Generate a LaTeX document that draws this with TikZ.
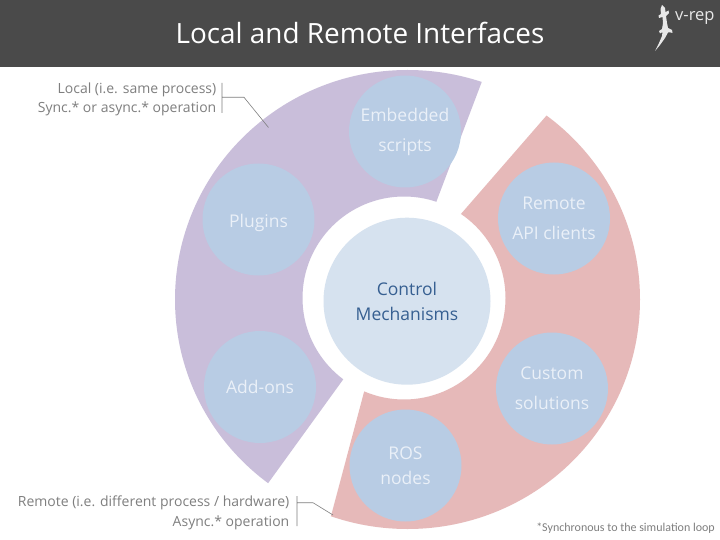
\documentclass[tikz,border=0pt]{standalone}
\usepackage{fontspec}
\setmainfont{Open Sans}
\newfontfamily\calib{Carlito}
\definecolor{barc}{HTML}{4A4A4A}
\definecolor{purp}{HTML}{C9BEDA}
\definecolor{pinkc}{HTML}{E6B9B9}
\definecolor{blobc}{HTML}{B8CCE4}
\definecolor{corec}{HTML}{D6E2EF}
\definecolor{labc}{HTML}{7F7F7F}
\definecolor{coretext}{HTML}{365F91}
\definecolor{logoc}{HTML}{E8E8E8}
\definecolor{blobtxt}{HTML}{EAF0F8}
\tikzset{x=1pt,y=-1pt,
  blob/.style={circle,fill=blobc,minimum size=112pt,inner sep=0pt},
  blobtext/.style={text=blobtxt,font=\fontsize{17.5}{30}\selectfont,align=center},
  core/.style={circle,fill=corec,minimum size=167pt,inner sep=0pt,text=coretext,align=center,font=\fontsize{17.5}{24.5}\selectfont},
  leader/.style={draw=labc,line width=0.6pt},
  lab/.style={text=labc,font=\fontsize{14}{19.5}\selectfont,align=right,anchor=east,inner sep=0pt}}
\begin{document}
\begin{tikzpicture}
\useasboundingbox (0,0) rectangle (720,540);
\fill[white] (0,0) rectangle (720,540);
\begin{scope}
\clip (512.8,0) -- (397.4,304.5) -- (227,540) -- (0,540) -- (0,0) -- cycle;
\fill[purp,even odd rule] (407.5,299.5) ellipse[x radius=232.5,y radius=229.5] (404,298) circle[radius=101.5];
\end{scope}
\begin{scope}
\clip (647,0) -- (720,0) -- (720,540) -- (324.6,540) -- (389.6,296) -- cycle;
\fill[pinkc,even odd rule] (407.5,299.5) ellipse[x radius=232.5,y radius=229.5] (404,298) circle[radius=101.5];
\end{scope}
\fill[barc] (0,0) rectangle (720,67);
\node[font=\fontsize{27.9}{32}\selectfont,text=white,inner sep=0pt] (title) at (360,33) {Local and Remote Interfaces};
\node[core] (ctrl) at (407,301.2) {Control\\Mechanisms};
\node[blob,blobtext] (emb) at (405,131.5) {Embedded\\scripts};
\node[blob,blobtext] (rem) at (554,218.5) {Remote\\API clients};
\node[blob,blobtext,text height=15.6pt,text depth=0pt] (plug) at (258.5,219.5) {Plugins};
\node[blob,blobtext] (cust) at (552,388.5) {Custom\\solutions};
\node[blob,blobtext] (add) at (260,387) {Add-ons};
\node[blob,blobtext,font=\fontsize{17.5}{24.5}\selectfont] (ros) at (405.5,465.5) {ROS\\nodes};
\node[lab] (loc) at (216.5,99.5) {Local (i.e. same process)\\Sync.* or async.* operation};
\node[lab] (rmt) at (289.5,513) {Remote (i.e. different process / hardware)\\Async.* operation};
\node[font=\calib\fontsize{12}{14}\selectfont,text=labc,anchor=east,inner sep=0pt] (foot) at (715,528) {*Synchronous to the simulation loop};
\coordinate (a1) at (222,83); \coordinate (a2) at (222,113); \coordinate (a3) at (222,97.3);
\coordinate (a4) at (244,97.3); \coordinate (a5) at (268.5,127.5);
\coordinate (b1) at (297,496); \coordinate (b2) at (297,526); \coordinate (b3) at (297,502.7);
\coordinate (b4) at (313,502.7); \coordinate (b5) at (333,515);
\draw[leader] (a1) -- (a2) (a3) -- (a4) -- (a5);
\draw[leader] (b1) -- (b2) (b3) -- (b4) -- (b5);
% logo: gecko
\fill[logoc] (662,5) -- (665,8) -- (665.5,12) -- (668.5,10.5) -- (669,13) -- (666,16) -- (667,23) -- (668,28) -- (672,30) -- (672.5,33) -- (670.5,32.5) -- (668,32.5) -- (665,38) -- (660,45) -- (655,51) -- (659,43) -- (662,36) -- (662.5,32) -- (660,33.5) -- (659,31) -- (662,29) -- (663,23) -- (662.5,17) -- (659,18) -- (658.5,15.5) -- (661,14) -- (660.5,9) -- cycle;
\node[font=\fontsize{16.5}{18}\selectfont,text=logoc,anchor=west,inner sep=0pt] (logo) at (675,17.5) {v-rep};
\end{tikzpicture}
\end{document}
